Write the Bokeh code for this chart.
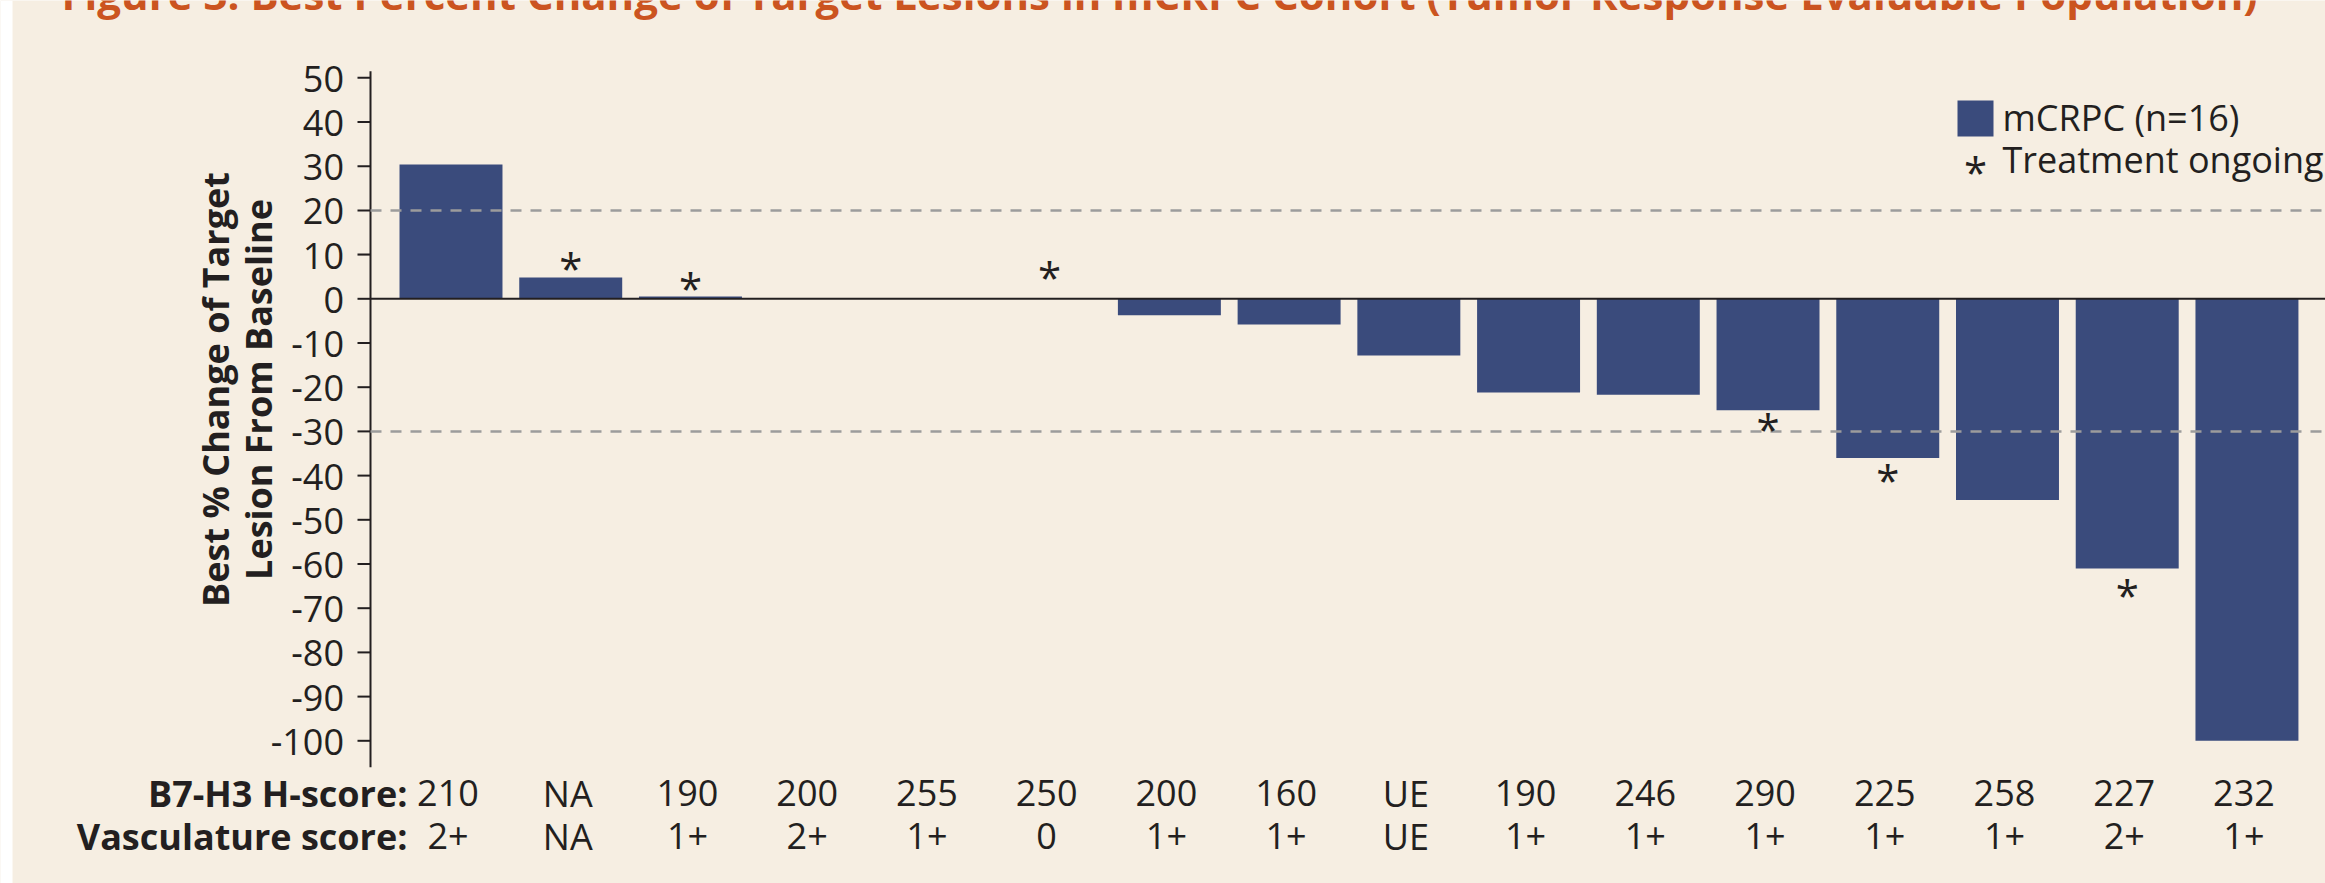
from math import pi
from bokeh.plotting import figure
from bokeh.models import Range1d, Label, BoxAnnotation
from bokeh.core.properties import value
from bokeh.embed import file_html
from bokeh.resources import INLINE

# ---------------- data ----------------
patients = list(range(1, 17))
best_change = [30.4, 4.8, 0.5, 0, 0, 0, -3.7, -5.8, -12.8, -21.2,
               -21.7, -25.2, -36.0, -45.5, -61.0, -100.0]
h_scores = ["210", "NA", "190", "200", "255", "250", "200", "160",
            "UE", "190", "246", "290", "225", "258", "227", "232"]
vasc_scores = ["2+", "NA", "1+", "2+", "1+", "0", "1+", "1+",
               "UE", "1+", "1+", "1+", "1+", "1+", "2+", "1+"]
ongoing_patients = [2, 3, 6, 12, 13, 15]
ongoing_marker_y = [8.3, 3.8, 6.1, -28.2, -39.7, -65.7]
y_ticks = list(range(-100, 51, 10))
y_tick_labels = [str(t) for t in y_ticks]
axis_extent = [-106.0, 51.5]
threshold_lines = [20, -30]

title_text = ("Figure 3: Best Percent Change of Target Lesions in mCRPC Cohort "
              "(Tumor Response Evaluable Population)")
y_title_lines = ["Best % Change of Target", "Lesion From Baseline"]
row_titles = ["B7-H3 H-score:", "Vasculature score:"]
legend_labels = ["mCRPC (n=16)", "Treatment ongoing"]

# ---------------- style / layout ----------------
BG = "#f6eee2"
BAR = "#3a4b7c"
INK = "#231f20"
DASH = "#9c9c9c"
ORANGE = "#cb5420"
FONT = "Open Sans"
FS = 36

W, H = 2325, 883
PXX = 119.73            # px per patient slot
PXY = 4.42              # px per percent
XS = 1 - 450.5 / PXX    # first bar centre at x=450.5 px
XE = XS + W / PXX
YT = 298.3 / PXY        # zero line at y=298.3 px
YB = YT - H / PXY
SHIFT_EM = 0.39         # renderer draws "alphabetic" text this much lower


def dx(px):
    return XS + px / PXX


def dy(py):
    return YT - py / PXY


def base_y(py, fs=FS):
    """data y that puts a text baseline at screen y = py"""
    return dy(py - SHIFT_EM * fs)


p = figure(width=W, height=H, output_backend="svg", toolbar_location=None,
           x_range=Range1d(XS, XE), y_range=Range1d(YB, YT),
           x_axis_location=None, y_axis_location=None,
           min_border_left=0, min_border_right=0,
           min_border_top=0, min_border_bottom=0,
           background_fill_color=BG, border_fill_color=BG,
           outline_line_color=None)
p.grid.visible = False

AX = dx(370)

# bars
p.vbar(x=patients, top=best_change, bottom=0, width=0.86,
       fill_color=BAR, line_color=None)

# y axis (line, ticks, labels)
p.segment(x0=[AX], y0=[axis_extent[0]], x1=[AX], y1=[axis_extent[1]],
          line_color=INK, line_width=2)
p.segment(x0=[AX - 13 / PXX] * len(y_ticks), y0=y_ticks,
          x1=[AX] * len(y_ticks), y1=y_ticks, line_color=INK, line_width=2)
tick_base_px = 15 - SHIFT_EM * FS
p.text(x=[AX - 26.5 / PXX] * len(y_ticks), y=[t - tick_base_px / PXY for t in y_ticks],
       text=y_tick_labels, text_font=value(FONT), text_font_size=f"{FS}px",
       text_color=INK, text_align="right", text_baseline="alphabetic")

# reference lines (drawn over bars)
p.segment(x0=[AX] * len(threshold_lines), y0=threshold_lines,
          x1=[XE] * len(threshold_lines), y1=threshold_lines,
          line_color=DASH, line_width=2.5, line_dash="11 9")
p.segment(x0=[AX], y0=[0], x1=[XE], y1=[0], line_color=INK, line_width=2)

# "treatment ongoing" asterisks
AST_FS = 42
AST_CENTER_PX = 5.0    # asterisk ink centre above the given anchor
p.text(x=ongoing_patients, y=[v - AST_CENTER_PX / PXY for v in ongoing_marker_y],
       text=["*"] * len(ongoing_patients), text_font=value(FONT),
       text_font_size=f"{AST_FS}px", text_align="center",
       text_baseline="alphabetic", text_color=INK)

# bottom rows
for vals, title, base_py in [(h_scores, row_titles[0], 806.7),
                              (vasc_scores, row_titles[1], 850.0)]:
    p.text(x=patients, y=[base_y(base_py)] * len(patients), text=vals, x_offset=-3,
           text_font=value(FONT), text_font_size=f"{FS}px", text_color=INK,
           text_align="center", text_baseline="alphabetic")
    p.add_layout(Label(x=dx(407), y=base_y(base_py), text=title,
                       text_font=FONT, text_font_size=f"{FS}px",
                       text_font_style="bold", text_color=INK,
                       text_align="right", text_baseline="alphabetic"))

# y-axis title (two centred lines, rotated)
for line, px in zip(y_title_lines, [229, 271.7]):
    p.add_layout(Label(x=dx(px - SHIFT_EM * FS), y=dy(389), text=line, angle=pi / 2,
                       text_font=FONT, text_font_size=f"{FS}px",
                       text_font_style="bold", text_color=INK,
                       text_align="center", text_baseline="alphabetic"))

# legend
p.add_layout(BoxAnnotation(left=dx(1957), right=dx(1993), top=dy(100), bottom=dy(136),
                           fill_color=BAR, fill_alpha=1, line_color=None))
p.add_layout(Label(x=dx(2002), y=base_y(131), text=legend_labels[0], text_font=FONT,
                   text_font_size=f"{FS}px", text_color=INK, text_align="left",
                   text_baseline="alphabetic"))
p.add_layout(Label(x=dx(2002), y=base_y(173.3), text=legend_labels[1], text_font=FONT,
                   text_font_size=f"{FS}px", text_color=INK, text_align="left",
                   text_baseline="alphabetic"))
p.add_layout(Label(x=dx(1975), y=dy(165.5 + AST_CENTER_PX), text="*",
                   text_font=FONT, text_font_size=f"{AST_FS}px", text_color=INK,
                   text_align="center", text_baseline="alphabetic"))

# title, cropped at the top edge as in the reference
TITLE_FS = 42
p.add_layout(Label(x=dx(61), y=base_y(9.3, TITLE_FS), text=title_text, text_font=FONT,
                   text_font_size=f"{TITLE_FS}px", text_font_style="bold",
                   text_color=ORANGE, text_align="left", text_baseline="alphabetic"))

# white strip at the far left, as in the reference
p.add_layout(BoxAnnotation(right=dx(12), fill_color="white", fill_alpha=1,
                           line_color=None))

open("out.html", "w").write(file_html(p, INLINE))
